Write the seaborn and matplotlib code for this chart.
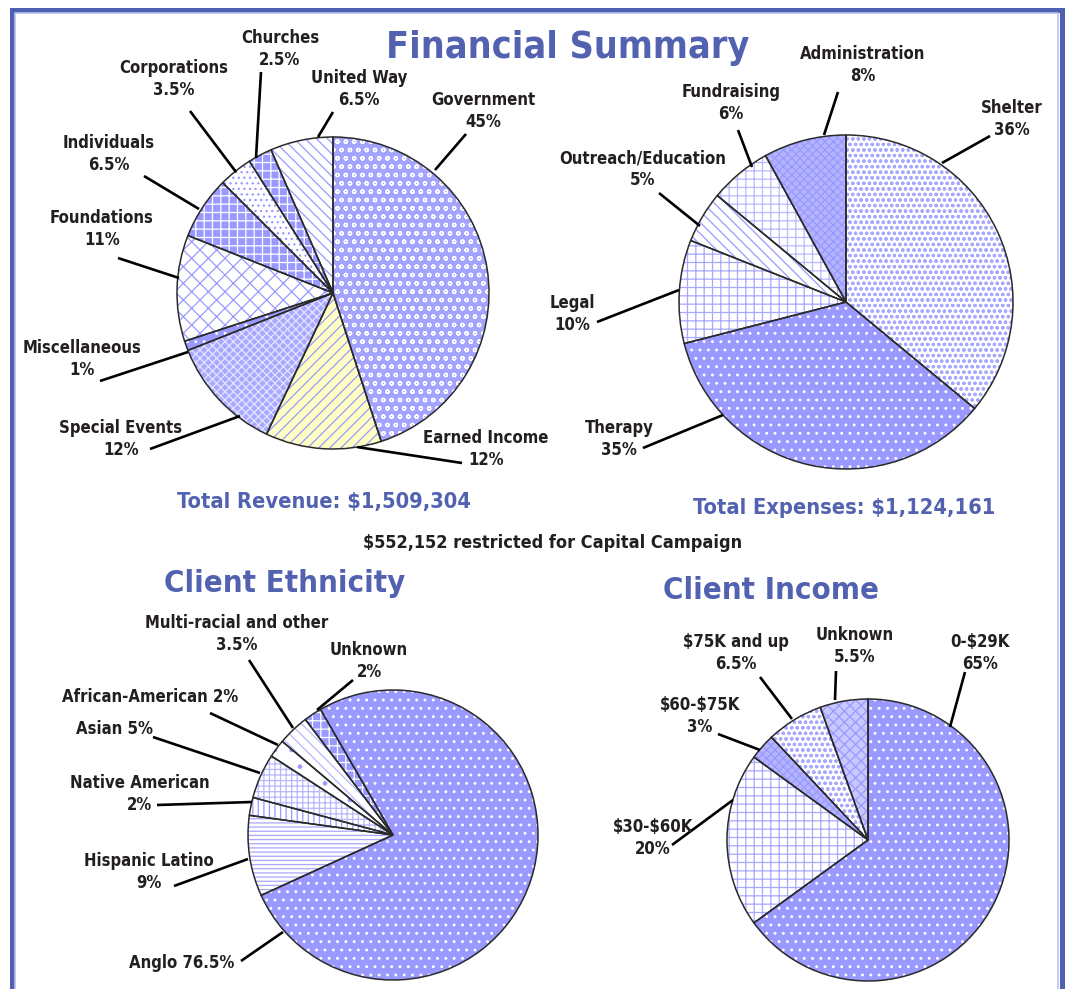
import matplotlib
matplotlib.use("Agg")
import matplotlib.pyplot as plt
from matplotlib import font_manager as fm
import seaborn as sns

sns.set_theme(style="white")

# narrow bold face: condensed DejaVu if present, else Roboto
fonts = fm.fontManager.ttflist
if any(f.name == 'DejaVu Sans' and f.stretch == 'condensed' for f in fonts):
    FAMILY, STRETCH, SCALE = 'DejaVu Sans', 'condensed', 1.0
else:
    FAMILY, STRETCH, SCALE = 'Roboto', 'normal', 0.95

plt.rcParams['font.family'] = [FAMILY, 'DejaVu Sans']
plt.rcParams['font.stretch'] = STRETCH
plt.rcParams['text.parse_math'] = False
plt.rcParams['hatch.linewidth'] = 0.9

W, H = 1066, 989
BLUE = '#9999ff'
TITLE = '#5262b0'
INK = '#231f20'

# ---- data ----
revenue_names = ['Government', 'Earned Income', 'Special Events', 'Miscellaneous',
                 'Foundations', 'Individuals', 'Corporations', 'Churches', 'United Way']
revenue_pct = [45, 12, 12, 1, 11, 6.5, 3.5, 2.5, 6.5]

expense_names = ['Shelter', 'Therapy', 'Legal', 'Outreach/Education',
                 'Fundraising', 'Administration']
expense_pct = [36, 35, 10, 5, 6, 8]

ethnicity_names = ['Anglo', 'Hispanic Latino', 'Native American', 'Asian',
                   'African-American', 'Multi-racial and other', 'Unknown']
ethnicity_pct = [76.5, 9, 2, 5, 2, 3.5, 2]

income_names = ['0-$29K', '$30-$60K', '$60-$75K', '$75K and up', 'Unknown']
income_pct = [65, 20, 3, 6.5, 5.5]

# ---- layout (pixel coordinates, y downwards) ----
revenue_geo = dict(center=(333, 293), radius=156, start=90)
revenue_text = [(483, 111), (486, 449), (121, 439), (82, 359), (102, 229),
                (109, 154), (174, 79), (280, 49), (359, 89)]
revenue_lines = [(435, 170, 466, 134), (357, 447, 462, 463), (240, 416, 150, 449),
                 (188, 352, 100, 381), (179, 278, 118, 258), (199, 209, 144, 176),
                 (236, 172, 190, 111), (256, 158, 261, 72), (318, 137, 333, 112)]
revenue_style = [('#a4a4ff', 'oo', 'white'), ('#ffffc4', '///', BLUE),
                 ('#a8a8ff', 'xxxx', '#e4e4ff'), (BLUE, '..', 'white'),
                 ('white', 'xx', BLUE), (BLUE, '++', 'white'),
                 ('white', '...', BLUE), (BLUE, '++', 'white'),
                 ('white', '\\\\\\', BLUE)]

expense_geo = dict(center=(846, 302), radius=167, start=90)
expense_text = [(1012, 119), (619, 439), (572, 314), (643, 169), (731, 103), (863, 65)]
expense_lines = [(942, 163, 990, 136), (723, 415, 643, 448), (679, 290, 597, 322),
                 (700, 226, 659, 193), (752, 167, 738, 130), (824, 135, 838, 92)]
expense_style = [('white', 'ooo', '#a8a8ff'), (BLUE, '..', 'white'),
                 ('white', '++', '#a8a8ff'), ('white', '\\\\\\', BLUE),
                 ('white', '++', '#b8b8ff'), ('#b4b4ff', 'xxxx', BLUE)]

ethnicity_geo = dict(center=(393, 835), radius=145, start=120)
ethnicity_text = [(182, 963), (149, 872), (140, 794), (114, 729),
                  (150, 697), (237, 634), (369, 661)]
ethnicity_inline = [True, False, False, True, True, False, False]
ethnicity_lines = [(283, 932, 241, 961), (248, 859, 174, 886), (252, 802, 157, 805),
                   (260, 773, 153, 737), (278, 745, 210, 713), (293, 728, 249, 660),
                   (317, 710, 353, 680)]
ethnicity_style = [(BLUE, '..', 'white'), ('white', '----', '#a8a8ff'),
                   ('white', '|||', BLUE), ('white', '+++', '#b8b8ff'),
                   ('white', '.', BLUE), ('white', '\\\\\\', '#b8b8ff'),
                   (BLUE, '++', 'white')]

income_geo = dict(center=(868, 840), radius=141, start=90)
income_text = [(980, 653), (653, 838), (700, 716), (736, 653), (855, 646)]
income_lines = [(950, 727, 965, 672), (733, 800, 672, 845), (760, 750, 718, 734),
                (792, 719, 760, 677), (835, 700, 836, 671)]
income_style = [(BLUE, '..', 'white'), ('white', '++', '#a8a8ff'),
                ('#b4b4ff', 'xxxx', BLUE), ('white', 'ooo', '#a8a8ff'),
                ('#c8c8ff', 'xxx', BLUE)]


def draw_pie(ax, values, geo, styles):
    cx, cy = geo['center']
    kw = dict(center=(cx, H - cy), radius=geo['radius'], startangle=geo['start'],
              counterclock=False, frame=True)
    wedges, _ = ax.pie(values, colors=[s[0] for s in styles],
                       wedgeprops=dict(linewidth=0), **kw)
    for w, (face, hatch, hcol) in zip(wedges, styles):
        w.set_hatch(hatch)
        w.set_edgecolor(hcol)
        w.set_linewidth(0)
    ax.pie(values, colors=['none'] * len(values),
           wedgeprops=dict(linewidth=1.1, edgecolor='#2a2a2a', fill=False), **kw)


def draw_labels(ax, names, values, text_pos, lines, inline=None):
    if inline is None:
        inline = [False] * len(names)
    for name, v, (tx, ty), (x1, y1, x2, y2), one in zip(names, values, text_pos,
                                                        lines, inline):
        sep = ' ' if one else '\n'
        ax.text(tx, H - ty, f"{name}{sep}{v:g}%", ha='center', va='center',
                fontsize=12 * SCALE, fontweight='bold', color=INK, linespacing=1.25)
        ax.plot([x1, x2], [H - y1, H - y2], color='black', lw=1.9,
                solid_capstyle='butt')


fig = plt.figure(figsize=(W / 100, H / 100), dpi=100)
ax = fig.add_axes([0, 0, 1, 1])

draw_pie(ax, revenue_pct, revenue_geo, revenue_style)
draw_pie(ax, expense_pct, expense_geo, expense_style)
draw_pie(ax, ethnicity_pct, ethnicity_geo, ethnicity_style)
draw_pie(ax, income_pct, income_geo, income_style)

draw_labels(ax, revenue_names, revenue_pct, revenue_text, revenue_lines)
draw_labels(ax, expense_names, expense_pct, expense_text, expense_lines)
draw_labels(ax, ethnicity_names, ethnicity_pct, ethnicity_text, ethnicity_lines,
            ethnicity_inline)
draw_labels(ax, income_names, income_pct, income_text, income_lines)

# titles and totals
ax.text(568, H - 58, 'Financial Summary', ha='center', va='baseline',
        fontsize=27 * SCALE, fontweight='bold', color=TITLE)
ax.text(324, H - 508, 'Total Revenue: $1,509,304', ha='center', va='baseline',
        fontsize=15.7 * SCALE, fontweight='bold', color=TITLE)
ax.text(844, H - 514, 'Total Expenses: $1,124,161', ha='center', va='baseline',
        fontsize=15.7 * SCALE, fontweight='bold', color=TITLE)
ax.text(553, H - 548, '$552,152 restricted for Capital Campaign', ha='center',
        va='baseline', fontsize=13 * SCALE, fontweight='bold', color=INK)
ax.text(285, H - 592, 'Client Ethnicity', ha='center', va='baseline',
        fontsize=22.3 * SCALE, fontweight='bold', color=TITLE)
ax.text(771, H - 599, 'Client Income', ha='center', va='baseline',
        fontsize=22.3 * SCALE, fontweight='bold', color=TITLE)

# frame
ax.plot([11.5, 11.5, 1061.5, 1061.5], [0, H - 9.5, H - 9.5, 0],
        color='#5060b0', lw=3.6, solid_joinstyle='miter')
ax.plot([15, 15, 1058, 1058], [0, H - 13, H - 13, 0],
        color='#b8c0ee', lw=1.2)

ax.set_xlim(0, W)
ax.set_ylim(0, H)
ax.axis('off')

fig.savefig('out.png', dpi=100)
